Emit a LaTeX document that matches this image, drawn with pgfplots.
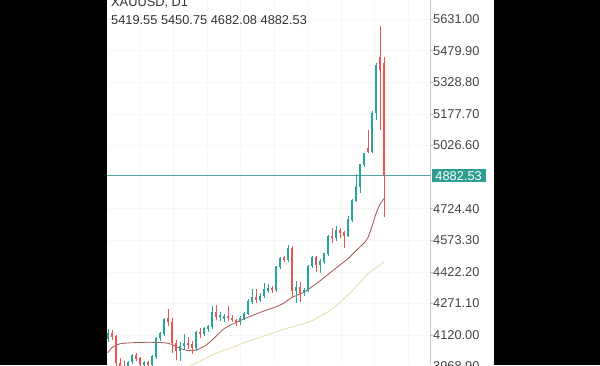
\documentclass[border=0pt]{standalone}
\usepackage{fontspec}
\setmainfont{Liberation Sans}
\usepackage{pgfplots}
\usepackage{pgfplotstable}
\pgfplotsset{compat=1.18}
\definecolor{bull}{HTML}{26A69A}
\definecolor{bear}{HTML}{EF5350}
\definecolor{maR}{HTML}{A65552}
\definecolor{maY}{HTML}{E6DCA8}
\definecolor{tagc}{HTML}{2E9E94}
\definecolor{pline}{HTML}{4AA89F}
\definecolor{txt}{HTML}{444444}
\definecolor{ttl}{HTML}{333333}

\pgfplotstableread{
i o h l c
0 4100 4150 4088 4128
5 3935 3995 3925 3990
6 3990 4030 3980 4020
9 3975 3995 3960 3988
11 3978 4025 3970 4018
12 4015 4110 4005 4105
13 4105 4135 4090 4125
14 4125 4200 4115 4195
18 4045 4085 3998 4066
19 4066 4125 4050 4078
22 4060 4140 4045 4132
24 4125 4160 4115 4150
25 4150 4170 4135 4160
26 4160 4258 4150 4225
28 4205 4230 4185 4212
29 4196 4222 4180 4210
33 4180 4210 4170 4198
34 4198 4230 4190 4222
35 4222 4290 4215 4280
36 4280 4340 4270 4300
38 4287 4320 4278 4305
39 4305 4370 4298 4338
40 4332 4365 4320 4342
42 4335 4450 4328 4445
43 4445 4495 4435 4486
45 4480 4550 4470 4535
47 4332 4380 4275 4345
49 4320 4345 4305 4332
50 4332 4455 4325 4448
51 4448 4500 4440 4492
53 4455 4485 4418 4470
54 4470 4512 4460 4508
55 4508 4600 4500 4590
57 4585 4643 4570 4620
60 4592 4690 4588 4670
61 4670 4768 4660 4762
62 4762 4888 4755 4830
63 4830 4940 4800 4935
64 4935 4990 4925 4985
66 4995 5190 4990 5180
67 5180 5420 5150 5410
}\bulltab

\pgfplotstableread{
i o h l c
1 4128 4142 4095 4110
2 4110 4118 3960 3985
3 3985 4010 3885 3950
4 3960 3995 3920 3935
7 4020 4032 3995 4005
8 4005 4015 3960 3975
10 3988 3998 3962 3978
15 4198 4245 4165 4180
16 4180 4200 4035 4080
17 4080 4095 4000 4045
20 4078 4110 4055 4070
21 4072 4090 4030 4060
23 4132 4155 4105 4125
27 4225 4262 4190 4205
30 4210 4258 4185 4200
31 4200 4215 4180 4190
32 4190 4198 4165 4180
37 4300 4338 4275 4287
41 4342 4352 4320 4335
44 4490 4500 4470 4480
46 4535 4545 4300 4332
48 4345 4372 4280 4320
52 4492 4500 4420 4455
56 4592 4632 4560 4585
58 4620 4630 4585 4610
59 4610 4615 4537 4592
65 5012 5100 4988 4995
68 5445 5600 5100 5385
69 5419.55 5450.75 4682.08 4882.53
}\beartab

\pgfplotstableread{
i v
0 4035
1 4060
3 4078
6 4083
10 4085
14 4083
16 4075
18 4056
20 4046
22 4048
24 4065
26 4095
29 4150
32 4180
35 4205
39 4235
42 4255
44 4273
46 4300
49 4325
53 4379
56 4425
58 4455
60 4485
62 4523
64 4560
65 4586
66 4640
67 4700
68 4745
69 4772
}\maRtab

\pgfplotstableread{
i v
16 3940
18 3955
20 3968
22 3985
25 4015
28 4040
31 4060
35 4090
39 4115
44 4148
49 4175
51 4188
54 4220
56 4245
57 4258
61 4330
65 4413
67 4440
68 4455
69 4468
}\maYtab

\begin{document}
\begin{tikzpicture}[x=1pt,y=1pt]
\useasboundingbox (0,0) rectangle (600,365);
\fill[black] (0,0) rectangle (600,365);
\fill[white] (107,0) rectangle (494,365);
\begin{axis}[
  at={(107pt,0pt)}, anchor=south west,
  scale only axis, width=323pt, height=365pt,
  xmin=-0.25, xmax=80.5, ymin=3976.5, ymax=5722,
  clip mode=individual,
  axis y line*=right, axis x line*=bottom,
  x axis line style={draw=none},
  y axis line style={draw=gray!45, line width=0.8pt},
  xtick={8,16.4,24.8,33.1,41.5,49.9,58.3,66.6,75},
  xticklabels={},
  xtick style={draw=none},
  xmajorgrids, ymajorgrids,
  grid style={gray!6, line width=0.6pt},
  ytick={4120,4271.1,4422.2,4573.3,4724.4,5026.6,5177.7,5328.8,5479.9,5631},
  tick align=outside, major tick length=3pt,
  ytick style={draw=gray!55, line width=0.6pt},
  scaled y ticks=false,
  /pgf/number format/.cd, fixed, fixed zerofill, precision=2, 1000 sep={}, assume math mode=true,
  /pgfplots/.cd,
  yticklabel={\pgfmathprintnumber{\tick}},
  yticklabel style={font=\fontsize{12.8}{14}\selectfont, text=txt, inner sep=0pt},
]
\addplot[maY, line width=0.8pt, smooth, tension=0.4, mark=none] table[x=i,y=v] {\maYtab};
\addplot[maR, line width=0.8pt, smooth, tension=0.4, mark=none] table[x=i,y=v] {\maRtab};
\addplot[pline, line width=0.7pt, mark=none] coordinates {(-0.25,4882.53) (80.5,4882.53)};
% wicks
\addplot[draw=none, mark=none, error bars/.cd, y dir=plus, y explicit, error mark=none,
  error bar style={draw=bull, line width=0.8pt}]
  table[x=i, y=l, y error plus expr=\thisrow{h}-\thisrow{l}] {\bulltab};
\addplot[draw=none, mark=none, error bars/.cd, y dir=plus, y explicit, error mark=none,
  error bar style={draw=bear, line width=0.8pt}]
  table[x=i, y=l, y error plus expr=\thisrow{h}-\thisrow{l}] {\beartab};
% bodies
\addplot[draw=none, mark=none, error bars/.cd, y dir=plus, y explicit, error mark=none,
  error bar style={draw=bull, line width=2.9pt}]
  table[x=i, y=o, y error plus expr=\thisrow{c}-\thisrow{o}+3] {\bulltab};
\addplot[draw=none, mark=none, error bars/.cd, y dir=plus, y explicit, error mark=none,
  error bar style={draw=bear, line width=2.9pt}]
  table[x=i, y=c, y error plus expr=\thisrow{o}-\thisrow{c}+3] {\beartab};
\node[fill=tagc, text=white, font=\fontsize{12.8}{14}\selectfont, inner xsep=3.8pt, inner ysep=2pt,
  text height=9pt, text depth=0pt, anchor=west, xshift=1.5pt] at (axis cs:80.5,4882.53) {4882.53};
\node[text=txt, font=\fontsize{12.8}{14}\selectfont, inner sep=0pt, anchor=west, xshift=3pt]
  at (axis cs:80.5,3968.9) {3968.90};
\end{axis}
\node[anchor=base west, inner sep=0pt, text=ttl, font=\fontsize{12.8}{14}\selectfont] at (111,358.3) {XAUUSD, D1};
\node[anchor=base west, inner sep=0pt, text=ttl, font=\fontsize{12.8}{14}\selectfont] at (111,340.5) {5419.55 5450.75 4682.08 4882.53};
\end{tikzpicture}
\end{document}
